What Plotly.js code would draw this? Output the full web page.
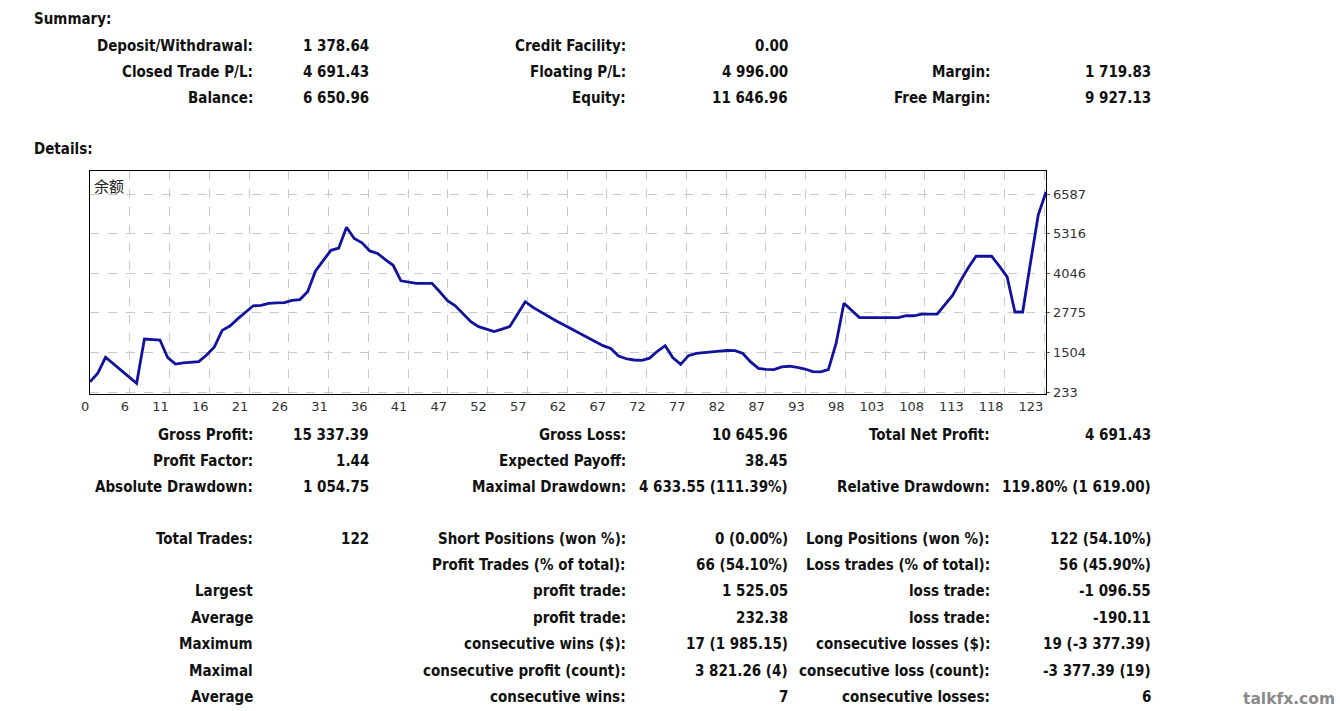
<!DOCTYPE html>
<html>
<head>
<meta charset="utf-8">
<script src="https://cdn.plot.ly/plotly-3.0.1.min.js"></script>
<style>html,body{margin:0;padding:0;background:#fff;}#chart{width:1340px;height:711px;}</style>
</head>
<body>
<div id="chart"></div>
<script>
// ---- Balance curve (余额) ----
const balance = [
  563, 833, 1347, 1140, 930, 720, 512, 1934, 1920, 1900,
  1334, 1131, 1170, 1190, 1210, 1420, 1680, 2210, 2350, 2580,
  2800, 3000, 3010, 3080, 3090, 3100, 3170, 3200, 3450, 4110,
  4450, 4780, 4850, 5520, 5160, 5020, 4760, 4680, 4480, 4300,
  3800, 3770, 3720, 3720, 3720, 3450, 3160, 3000, 2760, 2490,
  2330, 2240, 2170, 2250, 2330, 2730, 3130, 2950, 2800, 2650,
  2510, 2380, 2250, 2120, 1970, 1840, 1720, 1630, 1390, 1300,
  1260, 1250, 1320, 1540, 1720, 1330, 1120, 1400, 1470, 1500,
  1520, 1540, 1570, 1560, 1470, 1200, 990, 960, 950, 1040,
  1060, 1020, 970, 890, 880, 950, 1800, 3080, 2850, 2620,
  2620, 2620, 2620, 2620, 2620, 2680, 2680, 2730, 2730, 2730,
  3040, 3340, 3800, 4220, 4590, 4590, 4590, 4270, 3930, 2800,
  2800, 4380, 5910, 6650
];
const tradeIndex = balance.map((_, i) => i);
const xTickLabels = ['0','6','11','16','21','26','31','36','41','47','52','57','62','67','72','77','82','87','93','98','103','108','113','118','123'];
const yTickValues = [233, 1504, 2775, 4046, 5316, 6587];
const chartLabel = '余额';

// ---- Report text ----
const summaryTitle = 'Summary:';
const detailsTitle = 'Details:';
const summaryRows = [
  ['Deposit/Withdrawal:', '1 378.64', 'Credit Facility:', '0.00', '', ''],
  ['Closed Trade P/L:', '4 691.43', 'Floating P/L:', '4 996.00', 'Margin:', '1 719.83'],
  ['Balance:', '6 650.96', 'Equity:', '11 646.96', 'Free Margin:', '9 927.13']
];
const statsRowsA = [
  ['Gross Profit:', '15 337.39', 'Gross Loss:', '10 645.96', 'Total Net Profit:', '4 691.43'],
  ['Profit Factor:', '1.44', 'Expected Payoff:', '38.45', '', ''],
  ['Absolute Drawdown:', '1 054.75', 'Maximal Drawdown:', '4 633.55 (111.39%)', 'Relative Drawdown:', '119.80% (1 619.00)']
];
const statsRowsB = [
  ['Total Trades:', '122', 'Short Positions (won %):', '0 (0.00%)', 'Long Positions (won %):', '122 (54.10%)'],
  ['', '', 'Profit Trades (% of total):', '66 (54.10%)', 'Loss trades (% of total):', '56 (45.90%)'],
  ['Largest', '', 'profit trade:', '1 525.05', 'loss trade:', '-1 096.55'],
  ['Average', '', 'profit trade:', '232.38', 'loss trade:', '-190.11'],
  ['Maximum', '', 'consecutive wins ($):', '17 (1 985.15)', 'consecutive losses ($):', '19 (-3 377.39)'],
  ['Maximal', '', 'consecutive profit (count):', '3 821.26 (4)', 'consecutive loss (count):', '-3 377.39 (19)'],
  ['Average', '', 'consecutive wins:', '7', 'consecutive losses:', '6']
];
const watermark = 'talkfx.com';

// ---- layout helpers ----
const W = 1340, H = 711;
const px = x => x / W;
const py = y => 1 - y / H;
const txtFont = {family: 'DejaVu Sans Condensed, DejaVu Sans, sans-serif', size: 15, color: '#111'};
const colRight = [255, 371, 628, 790, 992, 1153];
const annotations = [];
function addText(text, x, y, anchor) {
  if (!text) return;
  annotations.push({
    text: '<b>' + text + '</b>',
    xref: 'paper', yref: 'paper', x: px(x), y: py(y),
    xanchor: anchor, yanchor: 'middle', showarrow: false, font: txtFont
  });
}
function addRows(rows, yStart, rowGap) {
  rows.forEach((r, ri) => {
    const y = yStart + ri * rowGap;
    r.forEach((t, ci) => addText(t, colRight[ci], y, 'right'));
  });
}
addText(summaryTitle, 32, 19, 'left');
addText(detailsTitle, 32, 149, 'left');
addRows(summaryRows, 45.5, 26.4);
addRows(statsRowsA, 435, 26.2);
addRows(statsRowsB, 538.5, 26.4);
annotations.push({
  text: '<b>' + watermark + '</b>', xref: 'paper', yref: 'paper', x: px(1337), y: py(699),
  xanchor: 'right', yanchor: 'middle', showarrow: false,
  font: {family: 'DejaVu Sans, sans-serif', size: 15.5, color: '#8a8a8a'}
});
annotations.push({
  text: chartLabel, xref: 'paper', yref: 'paper', x: px(92), y: py(185),
  xanchor: 'left', yanchor: 'middle', showarrow: false,
  font: {family: 'Noto Sans CJK SC, sans-serif', size: 15, color: '#222'}
});

const tickStep = (tradeIndex.length - 1) / 24.05;
const xTickVals = xTickLabels.map((_, k) => k * tickStep);

const trace = {
  x: tradeIndex, y: balance, type: 'scatter', mode: 'lines',
  line: {color: '#12129c', width: 2.8}, hoverinfo: 'x+y'
};

const axisFont = {family: 'DejaVu Sans, sans-serif', size: 13, color: '#333'};
const layout = {
  width: W, height: H, margin: {l: 0, r: 0, t: 0, b: 0},
  paper_bgcolor: '#fff', plot_bgcolor: '#fff', showlegend: false,
  xaxis: {
    domain: [px(90), px(1046)], range: [0, tradeIndex.length - 1],
    tickmode: 'array', tickvals: xTickVals, ticktext: xTickLabels,
    showgrid: true, gridcolor: '#c9c9c9', griddash: 'dash', gridwidth: 1,
    showline: true, linecolor: '#000', linewidth: 1.3, mirror: true,
    ticks: '', ticklabelposition: 'outside left', tickfont: axisFont, zeroline: false, fixedrange: true
  },
  yaxis: {
    domain: [py(394), py(171)], range: [169, 7325], side: 'right',
    tickmode: 'array', tickvals: yTickValues, ticktext: yTickValues.map(String),
    showgrid: true, gridcolor: '#c9c9c9', griddash: 'dash', gridwidth: 1,
    showline: true, linecolor: '#000', linewidth: 1.3, mirror: true,
    ticks: 'outside', ticklen: 3, tickcolor: '#555', tickfont: axisFont, zeroline: false, fixedrange: true
  },
  annotations: annotations
};

Plotly.newPlot('chart', [trace], layout, {displayModeBar: false, staticPlot: true});
</script>
</body>
</html>
